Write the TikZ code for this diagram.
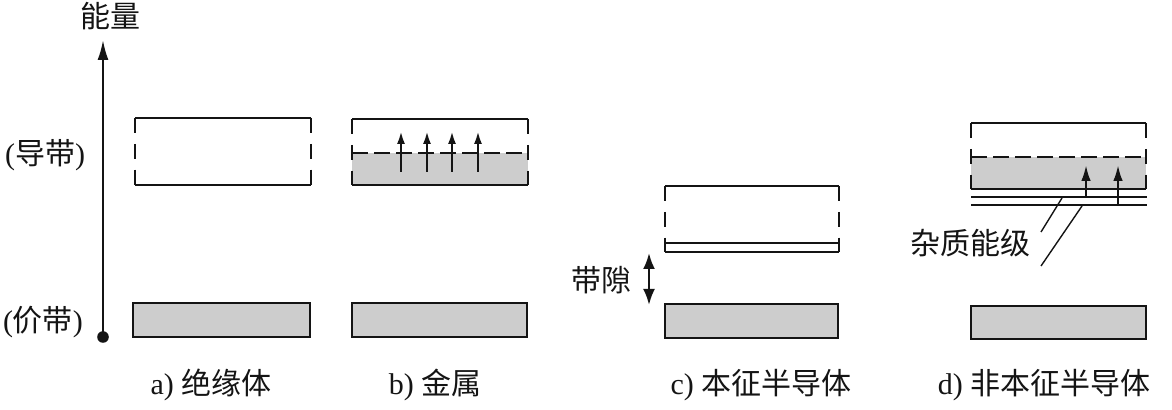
\documentclass[tikz,border=0pt]{standalone}
\usepackage{fontspec}
\setmainfont{Liberation Serif}
\newfontfamily\cjk{Noto Sans CJK SC}
\usetikzlibrary{arrows.meta,positioning}
\definecolor{ink}{RGB}{20,20,20}
\definecolor{bandfill}{RGB}{205,205,205}
\tikzset{
  edge/.style={draw=ink,line width=1.25pt},
  sidedash/.style={draw=ink,line width=1.25pt,dash pattern=on 7.7pt off 5.2pt},
  filled/.style={fill=bandfill,draw=ink,line width=1.25pt},
  fermi/.style={draw=ink,line width=1.2pt,dash pattern=on 8pt off 3pt},
  axis/.style={-{Latex[length=10pt,width=5.5pt]},draw=ink,line width=1.1pt},
  jump/.style={-{Latex[length=6.5pt,width=4pt]},draw=ink,line width=1.2pt},
  bigjump/.style={-{Latex[length=8pt,width=4.8pt]},draw=ink,line width=1.2pt},
  gaparrow/.style={{Latex[length=8pt,width=6pt]}-{Latex[length=8pt,width=6pt]},draw=ink,line width=1.2pt},
  leader/.style={draw=ink,line width=0.7pt},
  label/.style={font=\cjk\fontsize{15}{17}\selectfont,text=ink,inner sep=0pt},
  caption/.style={font=\fontsize{15}{17}\selectfont,text=ink,inner sep=0pt}
}

\begin{document}
\begin{tikzpicture}[x=0.5pt,y=-0.5pt]
  \useasboundingbox (0,0) rectangle (1172,410);

  % energy axis
  \coordinate (axbot) at (103,337);
  \coordinate (axtop) at (103,40);
  \draw[axis] (axbot) -- (axtop);
  \fill[ink] (axbot) circle[radius=2.9pt];
  \node[label] (energy) at (110,16) {能量};
  \node[caption] (cb) at (45,155) {({\cjk 导带})};
  \node[caption] (vb) at (43,322) {({\cjk 价带})};

  % a) insulator
  \draw[edge] (135,118) -- (311,118);
  \draw[edge] (135,185) -- (311,185);
  \draw[sidedash] (135,118) -- (135,185);
  \draw[sidedash] (311,118) -- (311,185);
  \draw[filled] (133,303) rectangle (310,337);
  \node[caption] (capa) at (211,385) {a) {\cjk 绝缘体}};

  % b) metal
  \fill[bandfill] (352,153) rectangle (528,185);
  \draw[edge] (352,119) -- (528,119);
  \draw[edge] (352,185) -- (528,185);
  \draw[fermi] (352,153) -- (528,153);
  \draw[sidedash] (352,119) -- (352,185);
  \draw[sidedash] (528,119) -- (528,185);
  \foreach \x in {401,427,452,478}{
    \coordinate (mlo\x) at (\x,172);
    \coordinate (mhi\x) at (\x,131);
    \draw[jump] (mlo\x) -- (mhi\x);
  }
  \draw[filled] (352,303) rectangle (527,337);
  \node[caption] (capb) at (435,385) {b) {\cjk 金属}};

  % c) intrinsic semiconductor
  \draw[edge] (665,186) -- (839,186);
  \draw[edge] (665,252) -- (839,252);
  \draw[edge] (665,243) -- (839,243);
  \draw[sidedash] (665,186) -- (665,252);
  \draw[sidedash] (839,186) -- (839,252);
  \draw[filled] (665,304) rectangle (838,338);
  \coordinate (gaptop) at (649,253);
  \coordinate (gapbot) at (649,305);
  \draw[gaparrow] (gaptop) -- (gapbot);
  \node[label] (gap) at (601,280) {带隙};
  \node[caption] (capc) at (761,385) {c) {\cjk 本征半导体}};

  % d) extrinsic semiconductor
  \fill[bandfill] (971,157) rectangle (1146,189);
  \draw[edge] (971,123) -- (1146,123);
  \draw[edge] (971,189) -- (1146,189);
  \draw[fermi] (971,157) -- (1146,157);
  \draw[sidedash] (971,123) -- (971,189);
  \draw[sidedash] (1146,123) -- (1146,189);
  \draw[edge] (971,197) -- (1147,197);
  \draw[edge] (971,205) -- (1147,205);
  \coordinate (ilo1) at (1086,197);
  \coordinate (ihi1) at (1086,165);
  \coordinate (ilo2) at (1118,205);
  \coordinate (ihi2) at (1118,165);
  \draw[bigjump] (ilo1) -- (ihi1);
  \draw[bigjump] (ilo2) -- (ihi2);
  \node[label] (impurity) at (970,243) {杂质能级};
  \coordinate (lead1a) at (1062,198);
  \coordinate (lead1b) at (1041,232);
  \coordinate (lead2a) at (1082,206);
  \coordinate (lead2b) at (1041,266);
  \draw[leader] (lead1a) -- (lead1b);
  \draw[leader] (lead2a) -- (lead2b);
  \draw[filled] (971,306) rectangle (1146,339);
  \node[caption] (capd) at (1044,385) {d) {\cjk 非本征半导体}};
\end{tikzpicture}
\end{document}
